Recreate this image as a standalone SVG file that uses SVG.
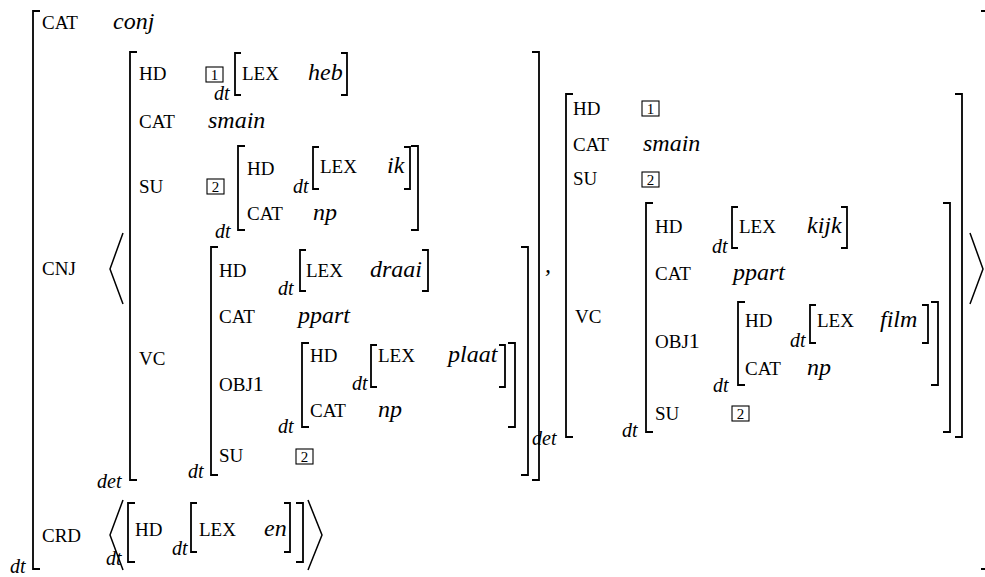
<svg xmlns="http://www.w3.org/2000/svg" width="985" height="577" viewBox="0 0 985 577">
<style>
text{font-family:'Liberation Serif','DejaVu Serif',serif;fill:#000}
.f{font-size:19px}
.v{font-size:24px;font-style:italic}
.s{font-size:20px;font-style:italic}
.n{font-size:15px;text-anchor:middle}
.b{fill:none;stroke:#000;stroke-width:1.8}
.bx{fill:none;stroke:#000;stroke-width:1.1}
.a{fill:none;stroke:#000;stroke-width:1.5}
</style>
<rect width="985" height="577" fill="#fff"/>

<g id="outer">
  <path class="b" d="M40 11H33V569H40M981 11H985M981 569H985"/>
  <text class="f" x="42" y="29">CAT</text>
  <text class="v" x="113" y="29">conj</text>
  <text class="f" x="42" y="275">CNJ</text>
  <text class="f" x="42" y="542">CRD</text>
  <text class="s" x="10" y="573">dt</text>
  <path class="a" d="M123 233L110 269L123 304"/>
  <path class="a" d="M970 233L983 269L970 304"/>
  <path class="a" d="M123 500L110 535L123 570"/>
  <path class="a" d="M308 500L322 535L308 570"/>
  <text class="v" x="545" y="272">,</text>
</g>

<g id="m1">
  <path class="b" d="M137 52H130V480H137M532 52H539V480H532"/>
  <text class="s" x="97" y="488">det</text>
  <text class="f" x="139" y="80">HD</text>
  <rect class="bx" x="206" y="67" width="17" height="15"/>
  <text class="n" x="214.5" y="80">1</text>
  <text class="f" x="139" y="128">CAT</text>
  <text class="v" x="208" y="128">smain</text>
  <text class="f" x="139" y="193">SU</text>
  <rect class="bx" x="207" y="179" width="17" height="15"/>
  <text class="n" x="215.5" y="192">2</text>
  <text class="f" x="139" y="365">VC</text>
</g>

<g id="m1-hd">
  <text class="s" x="214" y="100">dt</text>
  <path class="b" d="M241 53H235V95H241M341 53H347V95H341"/>
  <text class="f" x="242" y="80">LEX</text>
  <text class="v" x="308" y="80">heb</text>
</g>

<g id="m1-su">
  <text class="s" x="215" y="238">dt</text>
  <path class="b" d="M245 146H238V230H245M411 146H418V230H411"/>
  <text class="f" x="247" y="175">HD</text>
  <text class="f" x="247" y="220">CAT</text>
  <text class="v" x="313" y="220">np</text>
</g>

<g id="m1-su-hd">
  <text class="s" x="293" y="193">dt</text>
  <path class="b" d="M319 147H313V189H319M404 147H410V189H404"/>
  <text class="f" x="320" y="173">LEX</text>
  <text class="v" x="387" y="173">ik</text>
</g>

<g id="m1-vc">
  <text class="s" x="188" y="478">dt</text>
  <path class="b" d="M218 247H211V475H218M521 247H528V475H521"/>
  <text class="f" x="219" y="277">HD</text>
  <text class="f" x="219" y="323">CAT</text>
  <text class="v" x="298" y="323">ppart</text>
  <text class="f" x="219" y="391">OBJ<tspan font-size="22">1</tspan></text>
  <text class="f" x="219" y="462">SU</text>
  <rect class="bx" x="296" y="449" width="17" height="15"/>
  <text class="n" x="304.5" y="462">2</text>
</g>

<g id="m1-vc-hd">
  <text class="s" x="278" y="295">dt</text>
  <path class="b" d="M306 250H300V291H306M422 250H428V291H422"/>
  <text class="f" x="306" y="277">LEX</text>
  <text class="v" x="370" y="277">draai</text>
</g>

<g id="m1-vc-obj1">
  <text class="s" x="278" y="433">dt</text>
  <path class="b" d="M309 343H302V427H309M508 343H515V427H508"/>
  <text class="f" x="310" y="362">HD</text>
  <text class="f" x="310" y="417">CAT</text>
  <text class="v" x="378" y="417">np</text>
</g>

<g id="m1-vc-obj1-hd">
  <text class="s" x="352" y="390">dt</text>
  <path class="b" d="M377 345H371V387H377M499 345H505V387H499"/>
  <text class="f" x="378" y="362">LEX</text>
  <text class="v" x="448" y="362">plaat</text>
</g>

<g id="m2">
  <text class="s" x="532" y="445">det</text>
  <path class="b" d="M573 94H566V437H573M955 94H962V437H955"/>
  <text class="f" x="573" y="115">HD</text>
  <rect class="bx" x="642" y="101" width="17" height="15"/>
  <text class="n" x="650.5" y="114">1</text>
  <text class="f" x="573" y="151">CAT</text>
  <text class="v" x="643" y="151">smain</text>
  <text class="f" x="573" y="185">SU</text>
  <rect class="bx" x="642" y="172" width="17" height="15"/>
  <text class="n" x="650.5" y="185">2</text>
  <text class="f" x="575" y="323">VC</text>
</g>

<g id="m2-vc">
  <text class="s" x="622" y="437">dt</text>
  <path class="b" d="M653 203H646V432H653M943 203H950V432H943"/>
  <text class="f" x="655" y="233">HD</text>
  <text class="f" x="655" y="280">CAT</text>
  <text class="v" x="733" y="280">ppart</text>
  <text class="f" x="655" y="348">OBJ<tspan font-size="22">1</tspan></text>
  <text class="f" x="655" y="420">SU</text>
  <rect class="bx" x="732" y="406" width="17" height="15"/>
  <text class="n" x="740.5" y="419">2</text>
</g>

<g id="m2-vc-hd">
  <text class="s" x="712" y="253">dt</text>
  <path class="b" d="M738 207H732V248H738M841 207H847V248H841"/>
  <text class="f" x="739" y="233">LEX</text>
  <text class="v" x="807" y="233">kijk</text>
</g>

<g id="m2-vc-obj1">
  <text class="s" x="713" y="392">dt</text>
  <path class="b" d="M745 302H738V385H745M931 302H938V385H931"/>
  <text class="f" x="745" y="327">HD</text>
  <text class="f" x="745" y="375">CAT</text>
  <text class="v" x="807" y="375">np</text>
</g>

<g id="m2-vc-obj1-hd">
  <text class="s" x="790" y="347">dt</text>
  <path class="b" d="M816 305H810V343H816M922 305H928V343H922"/>
  <text class="f" x="817" y="327">LEX</text>
  <text class="v" x="880" y="327">film</text>
</g>

<g id="crd">
  <text class="s" x="106" y="565">dt</text>
  <path class="b" d="M135 503H128V562H135M296 503H303V562H296"/>
  <text class="f" x="135" y="536">HD</text>
</g>

<g id="crd-hd">
  <text class="s" x="172" y="555">dt</text>
  <path class="b" d="M197 503H191V552H197M284 503H290V552H284"/>
  <text class="f" x="199" y="536">LEX</text>
  <text class="v" x="264" y="536">en</text>
</g>
</svg>
